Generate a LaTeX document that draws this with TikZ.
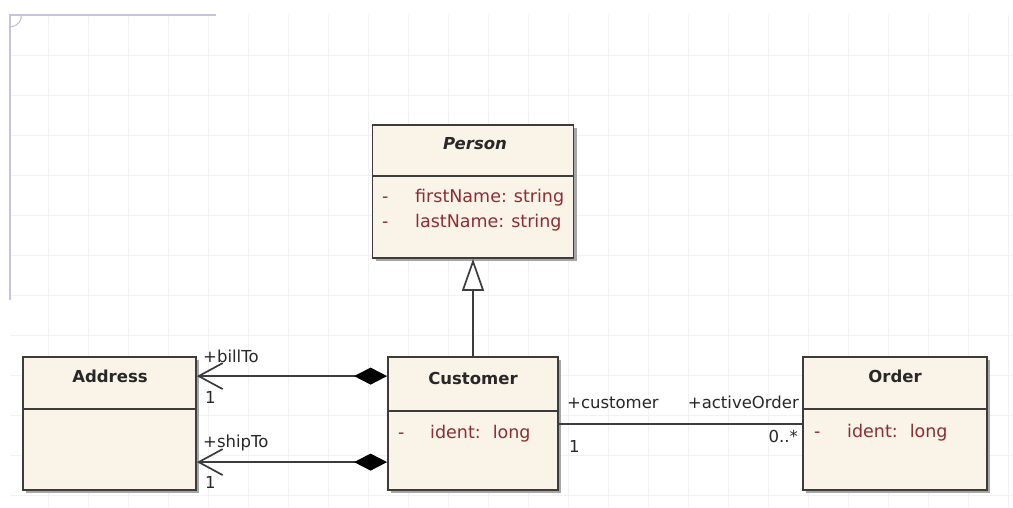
\documentclass[tikz,border=0pt]{standalone}
\usepackage{fontspec}
\setmainfont{DejaVu Sans}
\usetikzlibrary{arrows.meta}
\definecolor{boxfill}{RGB}{249,243,232}
\definecolor{boxline}{RGB}{60,60,60}
\definecolor{attrcol}{RGB}{140,45,50}
\definecolor{gridcol}{RGB}{242,242,244}
\definecolor{decor}{RGB}{196,196,220}
\definecolor{txt}{RGB}{40,40,40}
\tikzset{
  classbox/.style={draw=boxline, line width=1.8pt, fill=boxfill, inner sep=0pt, rectangle},
  shadowbox/.style={fill=black!35, draw=none, inner sep=0pt, rectangle},
  divider/.style={draw=boxline, line width=1.5pt},
  cname/.style={font=\fontsize{16.5}{19}\selectfont\bfseries, text=txt, inner sep=0pt, anchor=base},
  attr/.style={font=\fontsize{17.5}{20}\selectfont, text=attrcol, inner sep=0pt, anchor=base west},
  lbl/.style={font=\fontsize{16.5}{19}\selectfont, text=txt, inner sep=0pt},
  conn/.style={draw=boxline, line width=1.7pt},
}
\begin{document}
\begin{tikzpicture}[x=1pt,y=-1pt]
\useasboundingbox[fill=white] (0,0) rectangle (1013,507);
% faint grid
\foreach \gx in {48,88,...,1008} \draw[gridcol, line width=0.8pt] (\gx,15) -- (\gx,507);
\foreach \gy in {55,95,...,505} \draw[gridcol, line width=0.8pt] (10,\gy) -- (1013,\gy);
% top-left frame decoration
\draw[decor, line width=1.6pt] (10,300) -- (10,15) -- (216,15);
\draw[decor, line width=1.2pt] (10,27) .. controls (19,26) and (22,20) .. (21,15);

% shadows
\node[shadowbox, minimum width=201pt, minimum height=133pt] at (476,194.5) {};
\node[shadowbox, minimum width=173pt, minimum height=133pt] at (112.5,426.5) {};
\node[shadowbox, minimum width=170pt, minimum height=133pt] at (476,426.5) {};
\node[shadowbox, minimum width=184pt, minimum height=133pt] at (898,426.5) {};

% classes
\node[classbox, minimum width=201pt, minimum height=133pt] (person) at (473,191.5) {};
\node[classbox, minimum width=173pt, minimum height=133pt] (addr) at (109.5,423.5) {};
\node[classbox, minimum width=170pt, minimum height=133pt] (cust) at (473,423.5) {};
\node[classbox, minimum width=184pt, minimum height=133pt] (order) at (895,423.5) {};

% dividers
\draw[divider] ([yshift=-52pt]person.north west) -- ([yshift=-52pt]person.north east);
\draw[divider] ([yshift=-53pt]addr.north west) -- ([yshift=-53pt]addr.north east);
\draw[divider] ([yshift=-55pt]cust.north west) -- ([yshift=-55pt]cust.north east);
\draw[divider] ([yshift=-53pt]order.north west) -- ([yshift=-53pt]order.north east);

% class names
\node[cname, font=\fontsize{16.5}{19}\selectfont\bfseries\itshape] (personname) at (475,149) {Person};
\node[cname] (addrname) at (110,382) {Address};
\node[cname] (custname) at (473,384) {Customer};
\node[cname] (ordername) at (895,382) {Order};

% attributes
\node[attr] (pd1) at (382,202) {-};
\node[attr] (pa1) at (415,202) {firstName:\hspace{7pt}string};
\node[attr] (pd2) at (382,227) {-};
\node[attr] (pa2) at (415,227) {lastName:\hspace{7pt}string};
\node[attr] (cd1) at (398,438) {-};
\node[attr] (ca1) at (430,438) {ident:\hspace{12pt}long};
\node[attr] (od1) at (814,437) {-};
\node[attr] (oa1) at (847,437) {ident:\hspace{12pt}long};

% generalization
\draw[conn, -{Triangle[open, length=32pt, width=22pt, fill=white]}] (cust.north) -- (person.south);

% compositions
\coordinate (ab) at ([yshift=-20pt]addr.north east);
\coordinate (cb) at ([yshift=-20pt]cust.north west);
\coordinate (as) at ([yshift=-106pt]addr.north east);
\coordinate (cs) at ([yshift=-106pt]cust.north west);
\draw[conn, {Straight Barb[length=24pt, width=26pt]}-{Diamond[length=33pt, width=17pt, fill=black, color=black]}] (ab) -- (cb);
\draw[conn, {Straight Barb[length=24pt, width=26pt]}-{Diamond[length=33pt, width=17pt, fill=black, color=black]}] (as) -- (cs);

% association
\coordinate (ca) at ([yshift=-68pt]cust.north east);
\coordinate (oa) at ([yshift=-68pt]order.north west);
\draw[conn] (ca) -- (oa);

% role labels
\node[lbl, anchor=base west] (l1) at (203,362) {+billTo};
\node[lbl, anchor=base west] (l2) at (205,403) {1};
\node[lbl, anchor=base west] (l3) at (203,447) {+shipTo};
\node[lbl, anchor=base west] (l4) at (205,488) {1};
\node[lbl, anchor=base west] (l5) at (567,408) {+customer};
\node[lbl, anchor=base west] (l6) at (569,452) {1};
\node[lbl, anchor=base east] (l7) at (799,408) {+activeOrder};
\node[lbl, anchor=base east] (l8) at (798,442) {0..*};
\end{tikzpicture}
\end{document}
